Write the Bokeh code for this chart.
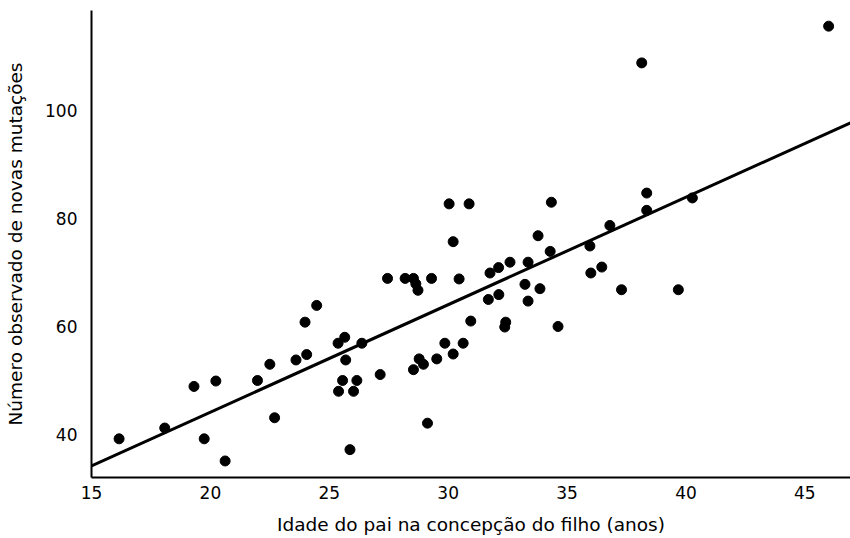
from bokeh.plotting import figure
from bokeh.models import Range1d, FixedTicker
from bokeh.embed import file_html
from bokeh.resources import INLINE

# Paternal age at conception (years)
idade_pai = [16.16, 18.08, 19.31, 19.74, 20.23, 20.62, 21.98, 22.5, 22.7, 23.60,
             24.05, 23.98, 24.47, 25.37, 25.65, 25.69, 25.56, 26.16, 25.39, 26.02,
             25.87, 26.37, 27.14, 27.45, 28.19, 28.54, 28.64, 28.73, 29.30, 28.54,
             28.96, 28.78, 29.52, 29.13, 29.86, 30.21, 30.63, 30.04, 30.88, 30.21,
             30.46, 30.95, 31.76, 32.12, 32.60, 31.69, 32.13, 32.42, 32.38, 33.36,
             33.23, 33.86, 33.36, 33.78, 34.29, 34.34, 34.62, 35.96, 36.0, 36.46,
             36.80, 37.29, 38.14, 38.35, 38.35, 39.68, 40.27, 46.0]
# Observed number of de novo mutations
mutacoes = [39.2, 41.2, 48.9, 39.2, 49.9, 35.1, 50.0, 53.0, 43.1, 53.8,
            54.8, 60.8, 63.9, 56.9, 58.0, 53.8, 50.0, 50.0, 48.0, 48.0,
            37.2, 56.9, 51.1, 68.9, 68.9, 68.9, 67.9, 66.7, 68.9, 52.0,
            53.0, 54.0, 54.0, 42.1, 56.9, 54.9, 56.9, 82.7, 82.7, 75.7,
            68.8, 61.0, 69.9, 70.9, 71.9, 65.0, 65.9, 60.8, 59.9, 71.9,
            67.8, 67.0, 64.7, 76.8, 73.9, 83.0, 60.0, 74.9, 69.9, 71.0,
            78.7, 66.8, 108.8, 84.7, 81.5, 66.8, 83.8, 115.6]

# Linear fit shown in the chart
fit_slope = 1.99
fit_intercept = 4.33

x_ticks = [15, 20, 25, 30, 35, 40, 45]
y_ticks = [40, 60, 80, 100]

x_min, x_max = 15.0, 46.92
y_min, y_max = 32.04, 118.5

FONT = "DejaVu Sans"

p = figure(frame_width=759, frame_height=467,
           x_range=Range1d(x_min, x_max), y_range=Range1d(y_min, y_max),
           output_backend="svg", toolbar_location=None,
           min_border_left=91, min_border_right=0, min_border_top=10,
           min_border_bottom=59)

p.xgrid.visible = False
p.ygrid.visible = False
p.outline_line_color = None
p.background_fill_color = "white"
p.border_fill_color = "white"

fit_x = [x_min, x_max]
fit_y = [fit_slope * v + fit_intercept for v in fit_x]
p.line(fit_x, fit_y, line_color="black", line_width=3)

p.scatter(idade_pai, mutacoes, size=10, fill_color="black", line_color="black")

p.xaxis.ticker = FixedTicker(ticks=x_ticks)
p.yaxis.ticker = FixedTicker(ticks=y_ticks)
p.xaxis.axis_label = "Idade do pai na concepção do filho (anos)"
p.yaxis.axis_label = "Número observado de novas mutações"

for ax in (p.xaxis[0], p.yaxis[0]):
    ax.axis_line_color = "black"
    ax.axis_line_width = 2
    ax.major_tick_line_color = None
    ax.minor_tick_line_color = None
    ax.major_label_text_font = FONT
    ax.major_label_text_font_size = "17px"
    ax.major_label_text_color = "black"
    ax.axis_label_text_font = FONT
    ax.axis_label_text_font_size = "18.5px"
    ax.axis_label_text_font_style = "normal"
    ax.axis_label_text_color = "black"

p.xaxis.major_label_standoff = 2
p.xaxis.axis_label_standoff = 12
p.yaxis.major_label_standoff = 8
p.yaxis.axis_label_standoff = 16

open("out.html", "w").write(file_html(p, INLINE))
